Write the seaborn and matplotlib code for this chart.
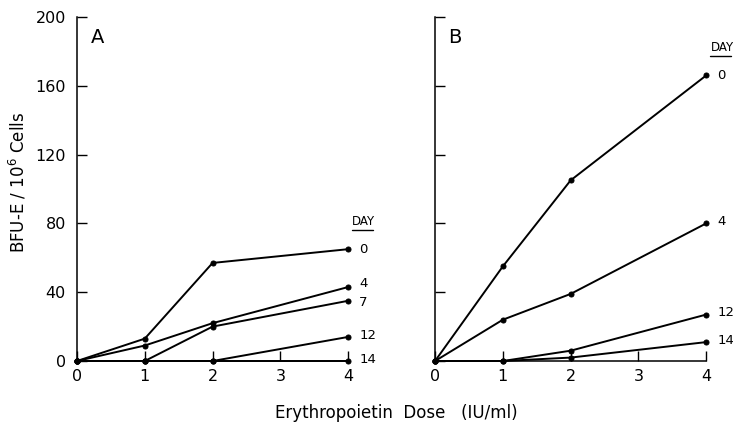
import matplotlib
matplotlib.use("Agg")
import matplotlib.pyplot as plt
import seaborn as sns
import pandas as pd

sns.set_style("ticks")
plt.rcParams['font.family'] = ['DejaVu Sans']
plt.rcParams['text.color'] = 'black'
plt.rcParams['axes.labelcolor'] = 'black'
plt.rcParams['xtick.color'] = 'black'
plt.rcParams['ytick.color'] = 'black'

dose = [0, 1, 2, 4]
x_ticks = [0, 1, 2, 3, 4]
y_ticks = [0, 40, 80, 120, 160, 200]

# Panel A
a_days = ["0", "4", "7", "12", "14"]
a_day0 = [0, 13, 57, 65]
a_day4 = [0, 9, 22, 43]
a_day7 = [0, 0, 20, 35]
a_day12 = [0, 0, 0, 14]
a_day14 = [0, 0, 0, 0]
a_label_y = [65, 45, 34, 15, 1]

# Panel B
b_days = ["0", "4", "12", "14"]
b_day0 = [0, 55, 105, 166]
b_day4 = [0, 24, 39, 80]
b_day12 = [0, 0, 6, 27]
b_day14 = [0, 0, 2, 11]
b_label_y = [166, 81, 28, 12]

fig = plt.figure(figsize=(7.33, 4.22), dpi=100)
axA = fig.add_axes([0.105, 0.1445, 0.370, 0.8155])
axB = fig.add_axes([0.5935, 0.1445, 0.370, 0.8155])

panels = [
    (axA, "A", a_days, [a_day0, a_day4, a_day7, a_day12, a_day14], a_label_y, 81, True),
    (axB, "B", b_days, [b_day0, b_day4, b_day12, b_day14], b_label_y, 182, False),
]

for ax, letter, days, series, lab_y, day_y, show_ylabels in panels:
    rows = []
    for d, vals in zip(days, series):
        for xv, yv in zip(dose, vals):
            rows.append({"dose": xv, "bfu": yv, "day": d})
    df = pd.DataFrame(rows)
    sns.lineplot(data=df, x="dose", y="bfu", hue="day", units="day", estimator=None,
                 palette=["black"] * len(days), marker="o", markersize=3.6,
                 markeredgecolor="black", linewidth=1.4, legend=False, ax=ax)
    for line in ax.lines:
        line.set_clip_on(False)
    ax.set_xlim(0, 4)
    ax.set_ylim(0, 200)
    ax.set_xticks(x_ticks)
    ax.set_yticks(y_ticks)
    ax.set_xticklabels([str(t) for t in x_ticks])
    if show_ylabels:
        ax.set_yticklabels([str(t) for t in y_ticks])
    else:
        ax.set_yticklabels([])
    ax.tick_params(direction="in", length=7, width=1, labelsize=11.5, pad=8, colors="black")
    ax.tick_params(axis="x", pad=6)
    ax.set_xlabel("")
    ax.set_ylabel("")
    sns.despine(ax=ax)
    for s in ["left", "bottom"]:
        ax.spines[s].set_linewidth(1.1)
        ax.spines[s].set_color("black")
    ax.text(0.2, 188, letter, fontsize=14, ha="left", va="center", color="black")
    for d, ly in zip(days, lab_y):
        ax.annotate(d, xy=(4, ly), xytext=(8, 0), textcoords="offset points",
                    fontsize=9.5, ha="left", va="center", annotation_clip=False,
                    color="black")
    ax.annotate("DAY", xy=(4, day_y), xytext=(3, 0), textcoords="offset points",
                fontsize=8.5, ha="left", va="center", annotation_clip=False,
                color="black")
    ax.plot([4.05, 4.37], [day_y - 5, day_y - 5], color="black", linewidth=1, clip_on=False)

fig.text(0.025, 0.568, "BFU-E / 10$^6$ Cells", rotation=90, fontsize=12,
         ha="center", va="center", color="black")
fig.text(0.54, 0.022, "Erythropoietin  Dose   (IU/ml)", fontsize=12,
         ha="center", va="center", color="black")

fig.savefig("out.png", dpi=100)
